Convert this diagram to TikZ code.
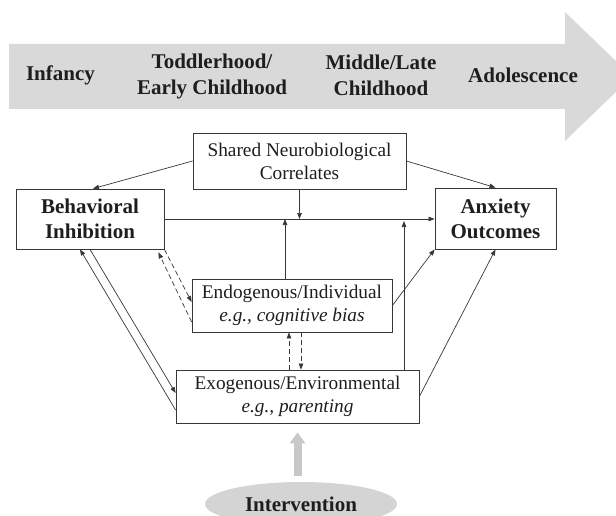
\documentclass[tikz,border=0pt]{standalone}
\usepackage{fontspec}
\setmainfont{Liberation Serif}
\usetikzlibrary{arrows.meta, shapes.geometric, calc}

\definecolor{bandgray}{RGB}{217,217,217}
\definecolor{ovalgray}{RGB}{212,212,212}
\definecolor{liftgray}{RGB}{200,200,200}
\definecolor{linegray}{RGB}{55,55,55}
\definecolor{inkgray}{RGB}{30,30,30}

\begin{document}
\begin{tikzpicture}[x=1pt, y=-1pt,
    box/.style={draw=linegray, line width=0.8pt, rectangle, inner sep=0pt, align=center,
        text=inkgray, font=\fontsize{19.3}{23}\selectfont},
    keybox/.style={box, font=\fontsize{21}{25}\selectfont\bfseries},
    stage/.style={align=center, text=inkgray, inner sep=0pt, font=\fontsize{21}{26}\selectfont\bfseries},
    link/.style={-{Triangle[length=6pt, width=4.5pt]}, line width=0.7pt, draw=linegray},
    dlink/.style={link, dash pattern=on 5pt off 3pt}]
    \clip (0,0) rectangle (616,516);

    % Timeline band
    \fill[bandgray] (9,44) -- (565,44) -- (565,12) -- (632,76.5) -- (565,141) -- (565,109) -- (9,109) -- cycle;
    \node[stage] (Infancy) at (60.5,75) {Infancy};
    \node[stage] (Toddler) at (212,76) {Toddlerhood/\\Early Childhood};
    \node[stage] (Middle) at (381,75) {Middle/Late\\Childhood};
    \node[stage] (Adolescence) at (523,75) {Adolescence};

    % Nodes
    \node[box, minimum width=213pt, minimum height=56pt] (Shared) at (299.5,161) {Shared Neurobiological\\Correlates};
    \node[keybox, minimum width=148pt, minimum height=60pt] (BI) at (90,219) {Behavioral\\Inhibition};
    \node[keybox, minimum width=121pt, minimum height=61pt] (Anxiety) at (495.5,218.5) {Anxiety\\Outcomes};
    \node[box, minimum width=200pt, minimum height=53pt] (Endo) at (292,305.5) {Endogenous/Individual\\\textit{e.g., cognitive bias}};
    \node[box, minimum width=243pt, minimum height=53pt] (Exo) at (297.5,396.5) {Exogenous/Environmental\\\textit{e.g., parenting}};
    \node[ellipse, fill=ovalgray, inner sep=0pt, minimum width=192pt, minimum height=44pt,
        text=inkgray, font=\fontsize{21}{25}\selectfont\bfseries] (Intervention) at (301,504) {Intervention};

    % Feet of the vertical links
    \coordinate (EndoUp) at ($(Endo.north)+(-7,0)$);
    \coordinate (ExoUp) at ($(Exo.north)+(106.5,0)$);
    \coordinate (ExoUpEnd) at ($(ExoUp |- BI.east)+(0,2)$);
    \coordinate (EndoDownL) at ($(Endo.south)+(-3,0)$);
    \coordinate (EndoDownR) at ($(Endo.south)+(9,0)$);

    % Paths
    \draw[link] (Shared.west) -- ($(BI.north)+(3,0)$);
    \draw[link] (Shared.east) -- (Anxiety.north);
    \draw[link] (BI.east) -- (BI.east -| Anxiety.west);
    \draw[link] (Shared.south) -- (Shared.south |- BI.east);
    \draw[link] (EndoUp) -- (EndoUp |- BI.east);
    \draw[link] (ExoUp) -- (ExoUpEnd);
    \draw[link] (Endo.east) -- (Anxiety.south west);
    \draw[link] (Exo.east) -- (Anxiety.south);

    \draw[link] ($(Exo.west)+(0,13.5)$) -- ($(BI.south)+(-10,0)$);
    \draw[link] (BI.south) -- ($(Exo.west)+(0,-3.5)$);

    \draw[dlink] ($(Endo.west)+(0,16.5)$) -- ($(BI.south east)+(-6,3)$);
    \draw[dlink] (BI.south east) -- ($(Endo.west)+(0,-3.5)$);
    \draw[dlink] (EndoDownL |- Exo.north) -- (EndoDownL);
    \draw[dlink] (EndoDownR) -- (EndoDownR |- Exo.north);

    \draw[liftgray, line width=8pt, -{Triangle[length=11pt, width=15pt]}]
        ($(Intervention.north)+(-3.5,-6)$) -- ($(Exo.south)+(0,9)$);
\end{tikzpicture}
\end{document}
